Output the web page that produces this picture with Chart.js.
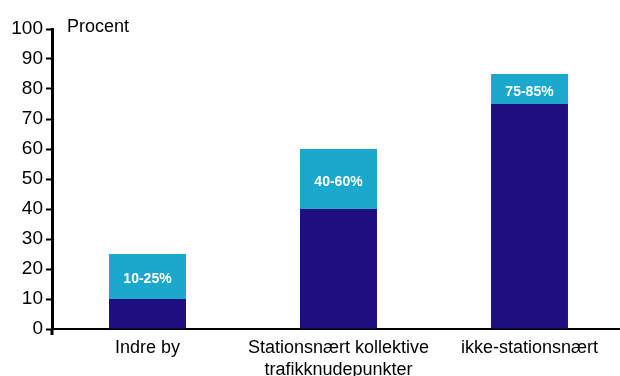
<!DOCTYPE html>
<html>
<head>
<meta charset="utf-8">
<script src="https://cdn.jsdelivr.net/npm/chart.js@4"></script>
<style>
    html, body { margin: 0; padding: 0; background: #fff; overflow: hidden; }
    #wrap { width: 625px; height: 376px; position: relative; }
</style>
</head>
<body>
<div id="wrap"><canvas id="andelChart"></canvas></div>
<script>
    'use strict';

    const categories = ['Indre by', ['Stationsnært kollektive', 'trafikknudepunkter'], 'ikke-stationsnært'];
    const lowValues = [10, 40, 75];
    const rangeValues = [15, 20, 10];
    const rangeLabels = ['10-25%', '40-60%', '75-85%'];
    const yTicks = [0, 10, 20, 30, 40, 50, 60, 70, 80, 90, 100];

    const FONT = '"Liberation Sans", Arial, sans-serif';

    // "Procent" next to the top of the axis, range text inside the light segment
    const extras = {
        id: 'extras',
        afterDatasetsDraw(chart) {
            const c = chart.ctx;
            const area = chart.chartArea;
            c.save();
            c.fillStyle = '#000';
            c.font = '18px ' + FONT;
            c.textBaseline = 'alphabetic';
            c.textAlign = 'left';
            c.fillText('Procent', area.left + 15, area.top + 3);

            // small stub of the y axis below the baseline
            c.strokeStyle = '#000';
            c.lineWidth = 3;
            c.beginPath();
            c.moveTo(area.left, area.bottom);
            c.lineTo(area.left, area.bottom + 6);
            c.stroke();

            const meta = chart.getDatasetMeta(1);
            c.fillStyle = '#fff';
            c.font = 'bold 14px ' + FONT;
            c.textAlign = 'center';
            c.textBaseline = 'middle';
            meta.data.forEach(function(bar, i) {
                const mid = (bar.y + bar.base) / 2;
                c.fillText(rangeLabels[i], bar.x, mid + 3);
            });
            c.restore();
        }
    };

    new Chart(document.getElementById('andelChart'), {
        type: 'bar',
        data: {
            labels: categories,
            datasets: [{
                data: lowValues,
                backgroundColor: '#1e0f80',
                borderWidth: 0
            }, {
                data: rangeValues,
                backgroundColor: '#1aa8cc',
                borderWidth: 0
            }]
        },
        options: {
            responsive: true,
            maintainAspectRatio: false,
            animation: false,
            events: [],
            layout: { padding: { top: 29, left: 0, right: 0, bottom: 0 } },
            plugins: {
                legend: { display: false },
                tooltip: { enabled: false }
            },
            datasets: {
                bar: { categoryPercentage: 1, barPercentage: 0.403 }
            },
            scales: {
                x: {
                    stacked: true,
                    grid: { display: false, drawTicks: false },
                    border: { display: true, color: '#000', width: 2 },
                    ticks: {
                        color: '#000',
                        padding: 9,
                        maxRotation: 0,
                        autoSkip: false,
                        font: { family: FONT, size: 18, lineHeight: 1.17 }
                    },
                    afterFit: function(scale) { scale.height = 47; }
                },
                y: {
                    stacked: true,
                    min: 0,
                    max: 100,
                    afterBuildTicks: function(scale) {
                        scale.ticks = yTicks.map(v => ({ value: v }));
                    },
                    grid: {
                        drawOnChartArea: false,
                        drawTicks: true,
                        tickLength: 6,
                        tickWidth: 2,
                        tickColor: '#000'
                    },
                    border: { display: true, color: '#000', width: 3 },
                    ticks: {
                        color: '#000',
                        padding: 3,
                        font: { family: FONT, size: 19 }
                    },
                    afterFit: function(scale) { scale.width = 52; }
                }
            }
        },
        plugins: [extras]
    });
</script>
</body>
</html>
